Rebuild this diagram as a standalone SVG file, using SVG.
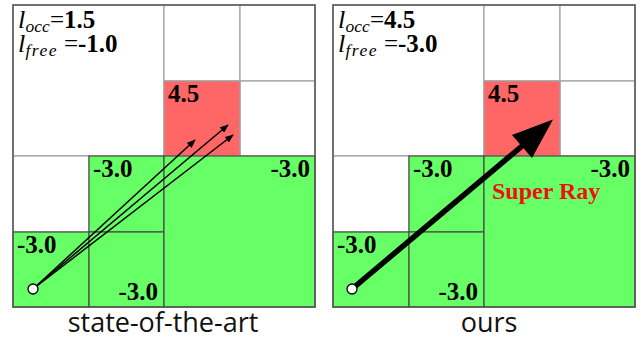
<svg xmlns="http://www.w3.org/2000/svg" width="642" height="340" viewBox="0 0 642 340">
<defs>
<style>
.w{fill:#ffffff;stroke:#a0a0a0;stroke-width:1.2}
.r{fill:#ff6666;stroke:#a0a0a0;stroke-width:1.2}
.g{fill:#66ff66;stroke:#4a4a4a;stroke-width:1.2}
.frame{fill:none;stroke:#555555;stroke-width:1.5}
.num{font-family:"Liberation Serif","Times New Roman",serif;font-weight:bold;font-size:25px;fill:#000}
.f{font-family:"Liberation Serif","Times New Roman",serif;font-size:25px;fill:#000}
.it{font-style:italic;font-size:26px}
.sub{font-style:italic;font-size:17.5px}
.b{font-weight:bold}
.cap{font-family:"Open Sans","Liberation Sans",sans-serif;font-size:27px;fill:#111;text-anchor:middle}
.sr{font-family:"Liberation Serif","Times New Roman",serif;font-weight:bold;font-size:24px;fill:#ee1111}
.thin{stroke:#000;stroke-width:1.5;fill:none}
.org{fill:#fff;stroke:#000;stroke-width:1.3}
</style>
<marker id="ah" viewBox="0 0 10 8" refX="9" refY="4" markerWidth="9" markerHeight="7" markerUnits="userSpaceOnUse" orient="auto">
<path d="M0,0 L10,4 L0,8 Z" fill="#000"/>
</marker>
</defs>

<g id="panel-left">
<rect class="w" x="13" y="5" width="151" height="151"/>
<rect class="w" x="164" y="5" width="76" height="76"/>
<rect class="w" x="240" y="5" width="75" height="76"/>
<rect class="w" x="240" y="81" width="75" height="75"/>
<rect class="r" x="164" y="81" width="76" height="75"/>
<rect class="w" x="13" y="156" width="76" height="76"/>
<rect class="g" x="89" y="156" width="75" height="76"/>
<rect class="g" x="13" y="232" width="76" height="75"/>
<rect class="g" x="89" y="232" width="75" height="75"/>
<rect class="g" x="164" y="156" width="151" height="151"/>
<rect class="frame" x="13" y="5" width="302" height="302"/>
<text class="f" x="18" y="28"><tspan class="it">l</tspan><tspan class="sub" x="25.5" dy="4">occ</tspan><tspan x="50" dy="-4">=</tspan><tspan class="b" x="64">1.5</tspan></text>
<text class="f" x="18" y="51.5"><tspan class="it">l</tspan><tspan class="sub" x="25.5" dy="4" letter-spacing="1.5">free</tspan><tspan x="64" dy="-4">=</tspan><tspan class="b" x="78">-1.0</tspan></text>
<text class="num" x="168" y="102">4.5</text>
<text class="num" x="93" y="177">-3.0</text>
<text class="num" x="310" y="177" text-anchor="end">-3.0</text>
<text class="num" x="17" y="253">-3.0</text>
<text class="num" x="158" y="300" text-anchor="end">-3.0</text>
<text class="cap" x="163" y="332">state-of-the-art</text>
</g>

<g id="panel-right">
<rect class="w" x="333" y="5" width="151" height="151"/>
<rect class="w" x="484" y="5" width="76" height="76"/>
<rect class="w" x="560" y="5" width="75" height="76"/>
<rect class="w" x="560" y="81" width="75" height="75"/>
<rect class="r" x="484" y="81" width="76" height="75"/>
<rect class="w" x="333" y="156" width="76" height="76"/>
<rect class="g" x="409" y="156" width="75" height="76"/>
<rect class="g" x="333" y="232" width="76" height="75"/>
<rect class="g" x="409" y="232" width="75" height="75"/>
<rect class="g" x="484" y="156" width="151" height="151"/>
<rect class="frame" x="333" y="5" width="302" height="302"/>
<text class="f" x="338" y="28"><tspan class="it">l</tspan><tspan class="sub" x="345.5" dy="4">occ</tspan><tspan x="370" dy="-4">=</tspan><tspan class="b" x="384">4.5</tspan></text>
<text class="f" x="338" y="51.5"><tspan class="it">l</tspan><tspan class="sub" x="345.5" dy="4" letter-spacing="1.5">free</tspan><tspan x="384" dy="-4">=</tspan><tspan class="b" x="398">-3.0</tspan></text>
<text class="num" x="488" y="102">4.5</text>
<text class="num" x="413" y="177">-3.0</text>
<text class="num" x="630" y="177" text-anchor="end">-3.0</text>
<text class="num" x="337" y="253">-3.0</text>
<text class="num" x="478" y="300" text-anchor="end">-3.0</text>
<text class="sr" x="492" y="199">Super Ray</text>
<text class="cap" x="489" y="332">ours</text>
</g>

<g id="connectors">
<line class="thin" x1="33" y1="289" x2="195" y2="140" marker-end="url(#ah)"/>
<line class="thin" x1="33" y1="289" x2="228" y2="125" marker-end="url(#ah)"/>
<line class="thin" x1="33" y1="289" x2="233" y2="135" marker-end="url(#ah)"/>
<line x1="352" y1="289" x2="525" y2="143.5" stroke="#000" stroke-width="5.5"/>
<polygon points="553,119.5 512,135 532,158" fill="#000"/>
</g>

<g id="origin-left"><circle class="org" cx="33" cy="289" r="5"/></g>
<g id="origin-right"><circle class="org" cx="352" cy="289" r="5"/></g>
</svg>
